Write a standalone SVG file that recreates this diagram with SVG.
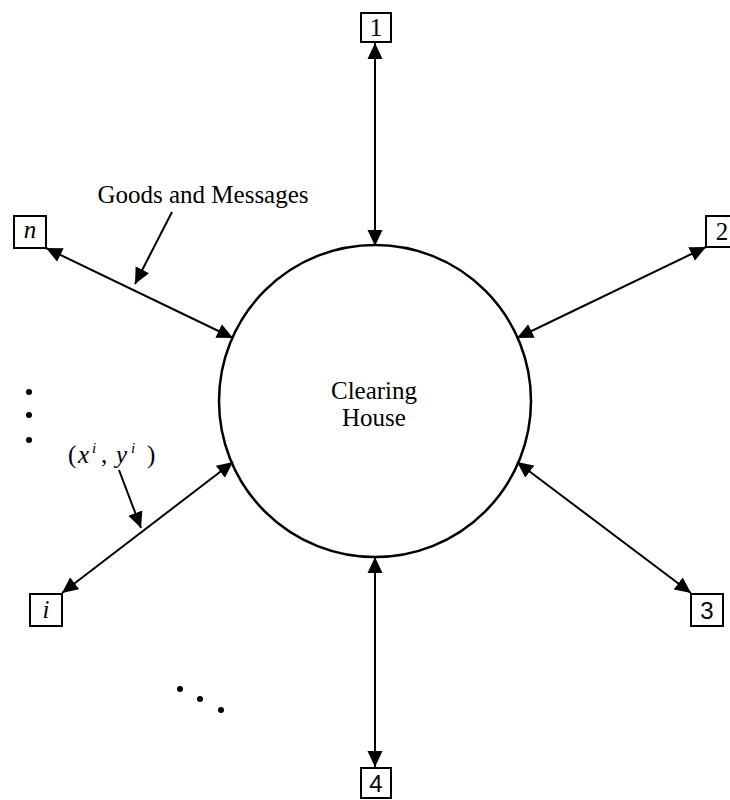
<svg xmlns="http://www.w3.org/2000/svg" width="730" height="800" viewBox="0 0 730 800">
<style>
.box{fill:#fff;stroke:#000;stroke-width:2}
.ln{stroke:#000;stroke-width:2;fill:none}
.serif{font-family:"Liberation Serif","Times New Roman",serif;font-size:25px;fill:#000}
.sans{font-family:"Liberation Sans",Arial,sans-serif;font-size:24px;fill:#000}
.it{font-style:italic}
.sup{font-size:15px}
</style>
<defs>
<marker id="ah" markerUnits="userSpaceOnUse" markerWidth="18" markerHeight="16" refX="16" refY="7.5" orient="auto-start-reverse" viewBox="0 0 18 15">
<path d="M0,0 L16,7.5 L0,15 z" fill="#000"/>
</marker>
</defs>
<rect width="730" height="800" fill="#fff"/>
<g id="connectors">
<line class="ln" x1="375" y1="43" x2="375" y2="246" marker-start="url(#ah)" marker-end="url(#ah)"/>
<line class="ln" x1="375" y1="557" x2="375" y2="767" marker-start="url(#ah)" marker-end="url(#ah)"/>
<line class="ln" x1="46" y1="248" x2="233" y2="338" marker-start="url(#ah)" marker-end="url(#ah)"/>
<line class="ln" x1="706" y1="247" x2="517" y2="338" marker-start="url(#ah)" marker-end="url(#ah)"/>
<line class="ln" x1="691" y1="593" x2="517" y2="462" marker-start="url(#ah)" marker-end="url(#ah)"/>
<line class="ln" x1="62" y1="593" x2="233" y2="462" marker-start="url(#ah)" marker-end="url(#ah)"/>
<line class="ln" x1="172" y1="212" x2="135" y2="284" marker-end="url(#ah)"/>
<line class="ln" x1="119" y1="470" x2="141" y2="528" marker-end="url(#ah)"/>
</g>
<g id="clearing-house">
<circle cx="375" cy="401" r="156" fill="none" stroke="#000" stroke-width="2.5"/>
<text class="serif" x="374" y="399" text-anchor="middle">Clearing</text>
<text class="serif" x="374" y="426" text-anchor="middle">House</text>
</g>
<g id="node-1">
<rect class="box" x="361" y="13" width="30" height="29"/>
<text class="serif" x="376" y="36" text-anchor="middle">1</text>
</g>
<g id="node-2">
<rect class="box" x="706" y="216" width="32" height="31"/>
<text class="serif" x="722" y="240" text-anchor="middle">2</text>
</g>
<g id="node-3">
<rect class="box" x="691" y="594" width="32" height="32"/>
<text class="sans" x="707" y="619" text-anchor="middle">3</text>
</g>
<g id="node-4">
<rect class="box" x="361" y="768" width="30" height="30"/>
<text class="sans" x="376" y="792" text-anchor="middle">4</text>
</g>
<g id="node-n">
<rect class="box" x="14" y="216" width="32" height="32"/>
<text class="serif it" x="30" y="238" text-anchor="middle">n</text>
</g>
<g id="node-i">
<rect class="box" x="30" y="594" width="32" height="32"/>
<text class="serif it" x="46" y="618" text-anchor="middle">i</text>
</g>
<g id="labels">
<text class="serif" x="203" y="203" text-anchor="middle">Goods and Messages</text>
<text class="serif" x="68" y="463">(</text>
<text class="serif it" x="78" y="463">x</text>
<text class="serif it sup" x="92" y="453">i</text>
<text class="serif" x="101" y="463">,</text>
<text class="serif it" x="116" y="463">y</text>
<text class="serif it sup" x="131" y="453">i</text>
<text class="serif" x="147" y="463">)</text>
</g>
<g id="ellipses" fill="#000">
<circle cx="29" cy="392" r="3"/>
<circle cx="29" cy="415" r="3"/>
<circle cx="29" cy="440" r="3"/>
<circle cx="180" cy="689" r="3"/>
<circle cx="200" cy="699" r="3"/>
<circle cx="221" cy="710" r="3"/>
</g>
</svg>
